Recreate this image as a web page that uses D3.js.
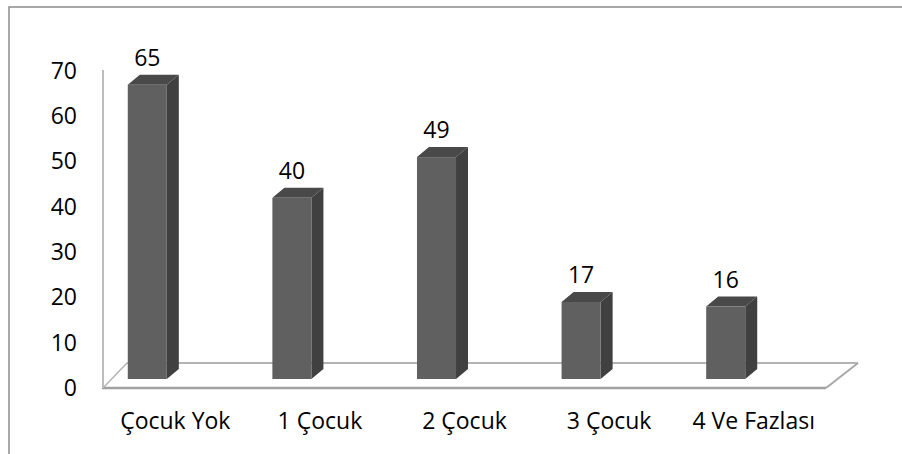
<!DOCTYPE html>
<html>
<head>
<meta charset="utf-8">
<script src="https://cdn.jsdelivr.net/npm/d3@7"></script>
<style>
  body { margin: 0; background: #fff; }
  text { font-family: "Open Sans", sans-serif; font-size: 23px; fill: #000; }
</style>
</head>
<body>
<div id="container"></div>
<script>
/* CONSTANTS AND GLOBALS */
const width = 902,
  height = 454;

// data
const categories = ["Çocuk Yok", "1 Çocuk", "2 Çocuk", "3 Çocuk", "4 Ve Fazlası"];
const values = [65, 40, 49, 17, 16];
const yTicks = [0, 10, 20, 30, 40, 50, 60, 70];

// 3d look
const depth = {dx: 12, dy: -10};     // bar depth
const floorDepth = {dxL: 24, dxR: 32, dy: -25};
const barShift = -28;                // bars sit back from the front of the floor
const barLift = -9;

const svg = d3.select("#container")
  .append("svg")
  .attr("width", width)
  .attr("height", height);

// chart frame
svg.append("rect")
  .attr("x", 9)
  .attr("y", 7)
  .attr("width", width)
  .attr("height", height)
  .attr("fill", "#fff")
  .attr("stroke", "#8c8c8c")
  .attr("stroke-width", 1.5);

// SCALES
const xScale = d3.scaleBand()
  .domain(categories)
  .range([103, 826])
  .paddingInner(0.73)
  .paddingOuter(0.365);

const yScale = d3.scaleLinear()
  .domain([0, 70])
  .range([388, 71]);

const y0 = yScale(0);
const [xl, xr] = xScale.range();

// FLOOR
const floor = svg.append("g").attr("class", "floor");
floor.append("line")
  .attr("x1", xl + floorDepth.dxL).attr("y1", y0 + floorDepth.dy)
  .attr("x2", xr + floorDepth.dxR).attr("y2", y0 + floorDepth.dy)
  .attr("stroke", "#b4b4b4").attr("stroke-width", 2);
floor.append("line")
  .attr("x1", xr + floorDepth.dxR).attr("y1", y0 + floorDepth.dy)
  .attr("x2", xr).attr("y2", y0)
  .attr("stroke", "#a8a8a8").attr("stroke-width", 2);
floor.append("line")
  .attr("x1", xl + floorDepth.dxL).attr("y1", y0 + floorDepth.dy)
  .attr("x2", xl).attr("y2", y0)
  .attr("stroke", "#b4b4b4").attr("stroke-width", 1.5);

// Y AXIS LINE
svg.append("line")
  .attr("x1", xl).attr("y1", yScale(70) - 1)
  .attr("x2", xl).attr("y2", y0)
  .attr("stroke", "#bdbdbd").attr("stroke-width", 2);

floor.append("line")
  .attr("x1", xl - 1).attr("y1", y0)
  .attr("x2", xr).attr("y2", y0)
  .attr("stroke", "#a0a0a0").attr("stroke-width", 2.5);

// BARS
const bars = svg.selectAll(".bar")
  .data(values.map((v, i) => ({cat: categories[i], value: v})))
  .join("g")
  .attr("class", "bar");

const bx = d => xScale(d.cat) + barShift;
const bw = xScale.bandwidth();
const byTop = d => yScale(d.value) + barLift;
const byBot = y0 + barLift;

// side face
bars.append("path")
  .attr("fill", "#404040")
  .attr("d", d => {
    const x = bx(d) + bw;
    return `M${x},${byTop(d)}L${x + depth.dx},${byTop(d) + depth.dy}` +
      `L${x + depth.dx},${byBot + depth.dy}L${x},${byBot}Z`;
  });

// top face
bars.append("path")
  .attr("fill", "#494949")
  .attr("d", d => {
    const x = bx(d), y = byTop(d);
    return `M${x},${y}L${x + depth.dx},${y + depth.dy}` +
      `L${x + bw + depth.dx},${y + depth.dy}L${x + bw},${y}Z`;
  });

// front face
bars.append("rect")
  .attr("fill", "#606060")
  .attr("x", bx)
  .attr("y", byTop)
  .attr("width", bw)
  .attr("height", d => byBot - byTop(d));

// value labels
bars.append("text")
  .attr("x", d => bx(d) + bw / 2)
  .attr("y", d => byTop(d) + depth.dy - 9)
  .attr("text-anchor", "middle")
  .text(d => d.value);

// AXES
const yAxis = d3.axisLeft(yScale)
  .tickValues(yTicks)
  .tickSize(0)
  .tickPadding(0);

svg.append("g")
  .attr("class", "yAxis")
  .attr("transform", `translate(${77},0)`)
  .call(yAxis)
  .call(g => g.select(".domain").remove())
  .selectAll("text")
  .attr("font-family", null)
  .attr("font-size", null)
  .attr("fill", null);

const xAxis = d3.axisBottom(xScale)
  .tickSize(0)
  .tickPadding(25);

svg.append("g")
  .attr("class", "xAxis")
  .attr("transform", `translate(0,${y0})`)
  .call(xAxis)
  .call(g => g.select(".domain").remove())
  .selectAll("text")
  .attr("font-family", null)
  .attr("font-size", null)
  .attr("fill", null);
</script>
</body>
</html>
